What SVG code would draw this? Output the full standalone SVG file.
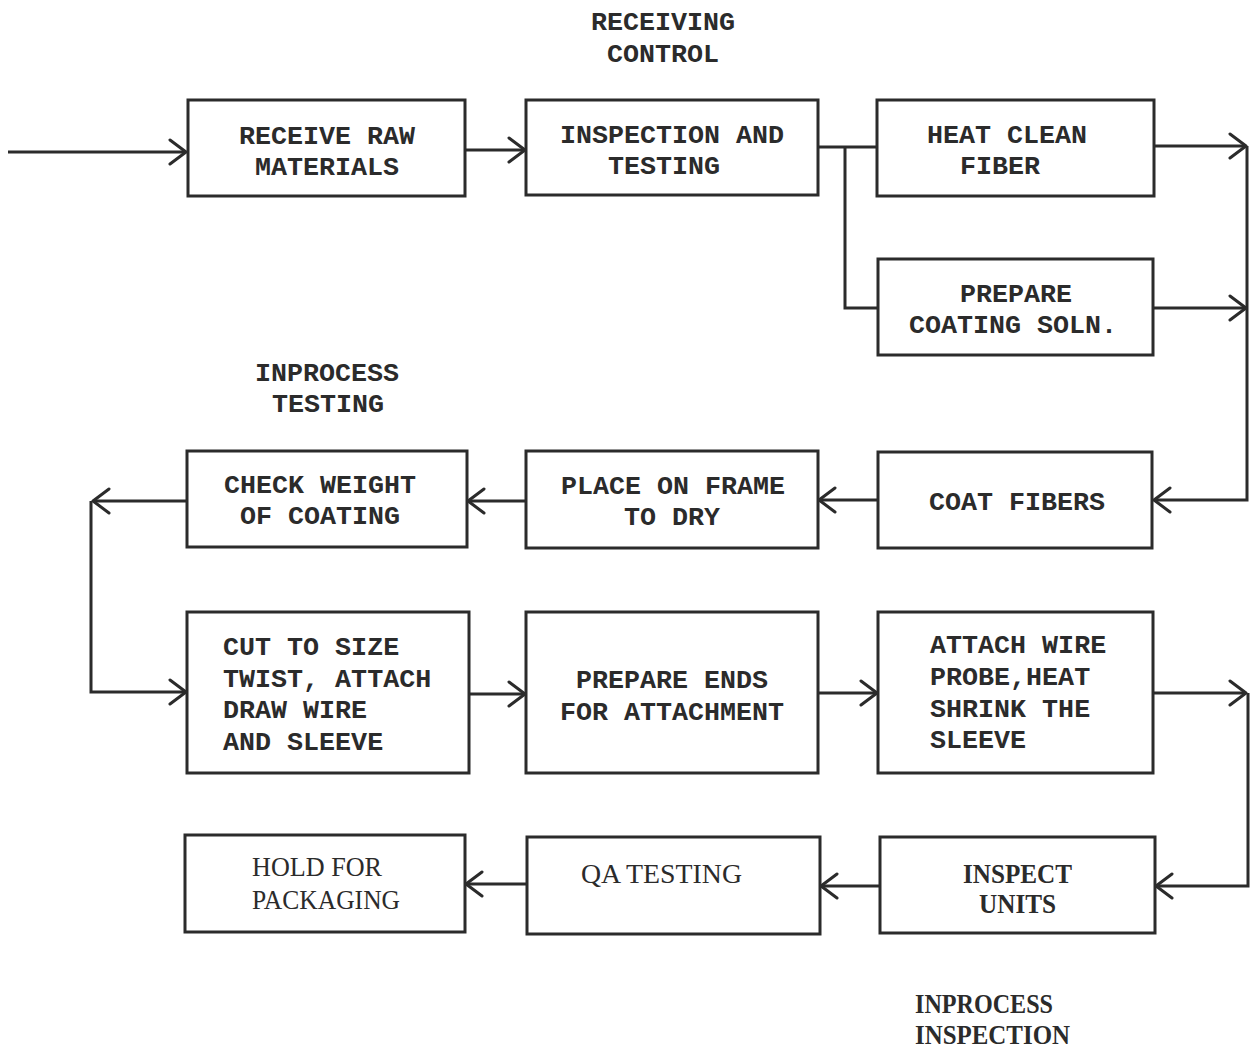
<svg xmlns="http://www.w3.org/2000/svg" width="1250" height="1049" viewBox="0 0 1250 1049">
<defs>
<marker id="arr" markerUnits="userSpaceOnUse" viewBox="0 0 20 28" refX="18" refY="14" markerWidth="20" markerHeight="28" orient="auto">
<path d="M2,2 L18,14 L2,26" fill="none" stroke="#2b2b2b" stroke-width="3" stroke-linecap="round" stroke-linejoin="round"/>
</marker>
</defs>
<style>
.box{fill:#fff;stroke:#2b2b2b;stroke-width:3}
.con{fill:none;stroke:#2b2b2b;stroke-width:3}
text{font-family:"Liberation Mono","Courier New",monospace;font-size:26.7px;fill:#2b2b2b;font-weight:bold}
.m{text-anchor:middle}
.s{font-family:"Liberation Serif","Times New Roman",serif;font-size:27px}
.n{font-weight:normal}
</style>
<rect width="1250" height="1049" fill="#fff"/>

<g id="connectors">
<path class="con" d="M8,152 H186" marker-end="url(#arr)"/>
<path class="con" d="M465,150 H525" marker-end="url(#arr)"/>
<path class="con" d="M818,147 H877"/>
<path class="con" d="M845,147 V308 H878"/>
<path class="con" d="M1154,146 H1246" marker-end="url(#arr)"/>
<path class="con" d="M1153,308 H1246" marker-end="url(#arr)"/>
<path class="con" d="M1247,146 V500 H1154" marker-end="url(#arr)"/>
<path class="con" d="M878,500 H819" marker-end="url(#arr)"/>
<path class="con" d="M526,501 H468" marker-end="url(#arr)"/>
<path class="con" d="M187,501 H93" marker-end="url(#arr)"/>
<path class="con" d="M91,501 V692 H186" marker-end="url(#arr)"/>
<path class="con" d="M469,694 H525" marker-end="url(#arr)"/>
<path class="con" d="M818,693 H877" marker-end="url(#arr)"/>
<path class="con" d="M1153,693 H1246" marker-end="url(#arr)"/>
<path class="con" d="M1248,693 V886 H1156" marker-end="url(#arr)"/>
<path class="con" d="M880,886 H821" marker-end="url(#arr)"/>
<path class="con" d="M527,884 H466" marker-end="url(#arr)"/>
</g>

<g id="label-receiving">
<text class="m" x="663" y="30">RECEIVING</text>
<text class="m" x="663" y="62">CONTROL</text>
</g>
<g id="label-inprocess-testing">
<text class="m" x="327" y="381">INPROCESS</text>
<text class="m" x="328" y="412">TESTING</text>
</g>
<g id="label-inprocess-inspection">
<text class="s" x="915" y="1013" textLength="138" lengthAdjust="spacingAndGlyphs">INPROCESS</text>
<text class="s" x="915" y="1044" textLength="155" lengthAdjust="spacingAndGlyphs">INSPECTION</text>
</g>

<g id="n-receive">
<rect class="box" x="188" y="100" width="277" height="96"/>
<text class="m" x="327" y="144">RECEIVE RAW</text>
<text class="m" x="327" y="175">MATERIALS</text>
</g>
<g id="n-inspection">
<rect class="box" x="526" y="100" width="292" height="95"/>
<text class="m" x="672" y="143">INSPECTION AND</text>
<text class="m" x="664" y="174">TESTING</text>
</g>
<g id="n-heatclean">
<rect class="box" x="877" y="100" width="277" height="96"/>
<text class="m" x="1007" y="143">HEAT CLEAN</text>
<text class="m" x="1000" y="174">FIBER</text>
</g>
<g id="n-prepcoat">
<rect class="box" x="878" y="259" width="275" height="96"/>
<text class="m" x="1016" y="302">PREPARE</text>
<text class="m" x="1013" y="333">COATING SOLN.</text>
</g>
<g id="n-checkweight">
<rect class="box" x="187" y="451" width="280" height="96"/>
<text class="m" x="320" y="493">CHECK WEIGHT</text>
<text class="m" x="320" y="524">OF COATING</text>
</g>
<g id="n-placeframe">
<rect class="box" x="526" y="451" width="292" height="97"/>
<text class="m" x="673" y="494">PLACE ON FRAME</text>
<text class="m" x="672" y="525">TO DRY</text>
</g>
<g id="n-coatfibers">
<rect class="box" x="878" y="452" width="274" height="96"/>
<text class="m" x="1017" y="510">COAT FIBERS</text>
</g>
<g id="n-cut">
<rect class="box" x="187" y="612" width="282" height="161"/>
<text x="223" y="655">CUT TO SIZE</text>
<text x="223" y="687">TWIST, ATTACH</text>
<text x="223" y="718">DRAW WIRE</text>
<text x="223" y="750">AND SLEEVE</text>
</g>
<g id="n-prepends">
<rect class="box" x="526" y="612" width="292" height="161"/>
<text class="m" x="672" y="688">PREPARE ENDS</text>
<text class="m" x="672" y="720">FOR ATTACHMENT</text>
</g>
<g id="n-attach">
<rect class="box" x="878" y="612" width="275" height="161"/>
<text x="930" y="653">ATTACH WIRE</text>
<text x="930" y="685">PROBE,HEAT</text>
<text x="930" y="717">SHRINK THE</text>
<text x="930" y="748">SLEEVE</text>
</g>
<g id="n-hold">
<rect class="box" x="185" y="835" width="280" height="97"/>
<text class="s n" x="252" y="876" textLength="130" lengthAdjust="spacingAndGlyphs">HOLD FOR</text>
<text class="s n" x="252" y="909" textLength="148" lengthAdjust="spacingAndGlyphs">PACKAGING</text>
</g>
<g id="n-qa">
<rect class="box" x="527" y="837" width="293" height="97"/>
<text class="s n" x="581" y="883" textLength="161" lengthAdjust="spacingAndGlyphs">QA TESTING</text>
</g>
<g id="n-inspectunits">
<rect class="box" x="880" y="837" width="275" height="96"/>
<text class="s" x="963" y="883" textLength="109" lengthAdjust="spacingAndGlyphs">INSPECT</text>
<text class="s" x="979" y="913" textLength="77" lengthAdjust="spacingAndGlyphs">UNITS</text>
</g>
</svg>
